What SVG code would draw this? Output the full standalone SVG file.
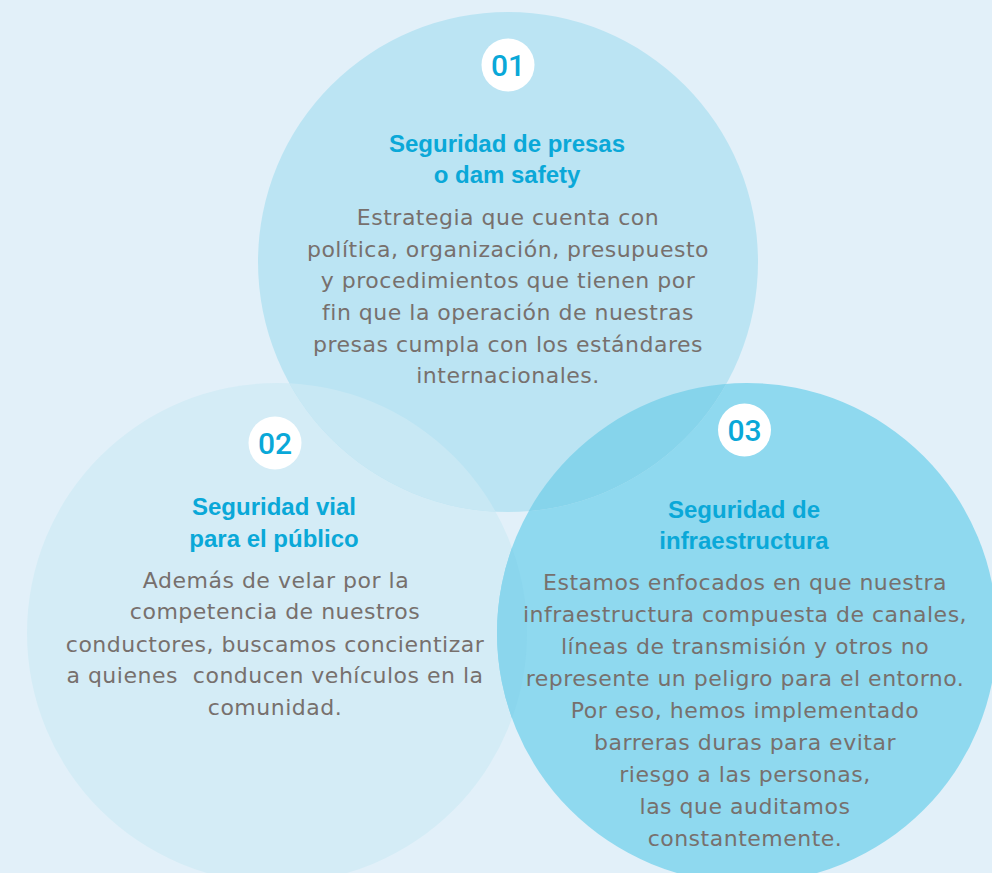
<svg xmlns="http://www.w3.org/2000/svg" width="992" height="873" viewBox="0 0 992 873">
<style>
.num{font-family:Roboto,"Liberation Sans",sans-serif;font-weight:500;font-size:30px;fill:#0aa8d8;text-anchor:middle}
.title{font-family:"Liberation Sans",Arial,sans-serif;font-weight:bold;font-size:24px;fill:#0aa8d8;text-anchor:middle}
.body{font-family:"DejaVu Sans",sans-serif;font-size:22px;letter-spacing:0.5px;fill:#77706d;text-anchor:middle}
.badge{fill:#ffffff}
</style>
<defs>
<clipPath id="c1"><circle cx="508" cy="262" r="250"/></clipPath>
<clipPath id="c3"><circle cx="747" cy="633" r="250"/></clipPath>
</defs>
<rect width="992" height="873" fill="#e2f0f9"/>
<g id="node-02-shape"><circle cx="277" cy="633" r="250" fill="#d4ecf6"/></g>
<g id="node-03-shape"><circle cx="747" cy="633" r="250" fill="#8fd9ef"/></g>
<g id="node-01-shape"><circle cx="508" cy="262" r="250" fill="#bbe4f3"/></g>
<g id="overlaps">
<circle cx="277" cy="633" r="250" fill="#c8e8f4" clip-path="url(#c1)"/>
<circle cx="747" cy="633" r="250" fill="#86d4eb" clip-path="url(#c1)"/>
<circle cx="277" cy="633" r="250" fill="#8bd6ed" clip-path="url(#c3)"/>
</g>
<g id="node-01">
<circle class="badge" cx="508" cy="65" r="26.5"/>
<text class="num" x="508" y="76">01</text>
<text class="title" x="507" y="152">Seguridad de presas</text>
<text class="title" x="507" y="183">o dam safety</text>
<text class="body" x="508" y="225">Estrategia que cuenta con</text>
<text class="body" x="508" y="257">política, organización, presupuesto</text>
<text class="body" x="508" y="288">y procedimientos que tienen por</text>
<text class="body" x="508" y="320">fin que la operación de nuestras</text>
<text class="body" x="508" y="352">presas cumpla con los estándares</text>
<text class="body" x="508" y="383">internacionales.</text>
</g>
<g id="node-02">
<circle class="badge" cx="275" cy="443" r="26.5"/>
<text class="num" x="275" y="454">02</text>
<text class="title" x="274" y="515">Seguridad vial</text>
<text class="title" x="274" y="547">para el público</text>
<text class="body" x="276" y="588">Además de velar por la</text>
<text class="body" x="275" y="619">competencia de nuestros</text>
<text class="body" x="275" y="652">conductores, buscamos concientizar</text>
<text class="body" x="275" y="683" xml:space="preserve">a quienes  conducen vehículos en la</text>
<text class="body" x="275" y="715">comunidad.</text>
</g>
<g id="node-03">
<circle class="badge" cx="744.5" cy="430" r="26.5"/>
<text class="num" x="744.5" y="441">03</text>
<text class="title" x="744" y="518">Seguridad de</text>
<text class="title" x="744" y="549">infraestructura</text>
<text class="body" x="745" y="590">Estamos enfocados en que nuestra</text>
<text class="body" x="745" y="622">infraestructura compuesta de canales,</text>
<text class="body" x="745" y="654">líneas de transmisión y otros no</text>
<text class="body" x="745" y="686">represente un peligro para el entorno.</text>
<text class="body" x="745" y="718">Por eso, hemos implementado</text>
<text class="body" x="745" y="750">barreras duras para evitar</text>
<text class="body" x="745" y="782">riesgo a las personas,</text>
<text class="body" x="745" y="814">las que auditamos</text>
<text class="body" x="745" y="846">constantemente.</text>
</g>
<g id="connectors"/>
</svg>
